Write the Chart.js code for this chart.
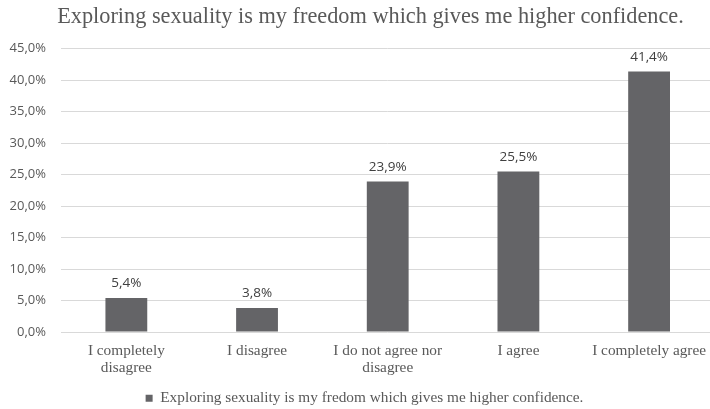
<!DOCTYPE html>
<html><head><meta charset="utf-8">
<script src="https://cdn.jsdelivr.net/npm/chart.js@4"></script>
<style>html,body{margin:0;padding:0;background:#fff;overflow:hidden}#w{width:717px;height:409px}</style>
</head><body><div id="w"><canvas id="c"></canvas></div>
<script>
const categories = [["I completely","disagree"],"I disagree",["I do not agree nor","disagree"],"I agree","I completely agree"];
const values = [5.4, 3.8, 23.9, 25.5, 41.4];
const valueLabels = ["5,4%","3,8%","23,9%","25,5%","41,4%"];
const yTicks = [0,5,10,15,20,25,30,35,40,45];
const seriesName = "Exploring sexuality is my fredom which gives me higher confidence.";
const titleText = "Exploring sexuality is my freedom which gives me higher confidence.";

const labelPlugin = {
  id: 'vlabels',
  afterLayout(chart){
    const t = chart.titleBlock; if (t){ t.left += 8; t.right += 8; }
    const l = chart.legend; if (l){ l.top += 7; l.bottom += 7; l.left += 2; l.right += 2; }
  },
  afterDatasetsDraw(chart){
    const ctx = chart.ctx;
    const meta = chart.getDatasetMeta(0);
    ctx.save();
    ctx.font = '13.5px "Open Sans"';
    ctx.fillStyle = '#404040';
    ctx.textAlign = 'center';
    ctx.textBaseline = 'bottom';
    meta.data.forEach((bar,i)=>{ ctx.fillText(valueLabels[i], bar.x, bar.y - 8); });
    ctx.restore();
  }
};

new Chart(document.getElementById('c'), {
  type: 'bar',
  data: { labels: categories, datasets: [{ label: seriesName, data: values, backgroundColor: '#646467', borderWidth: 0, barPercentage: 0.32, categoryPercentage: 1 }] },
  options: {
    responsive: true, maintainAspectRatio: false, animation: false,
    layout: { padding: { left: 8, right: 0, top: 4, bottom: 0 } },
    plugins: {
      title: { display: true, text: titleText, color: '#595959', font: { family: '"Liberation Serif"', size: 22.3, weight: 'normal', lineHeight: 1.2 }, padding: { top: 0, bottom: 18 } },
      legend: { position: 'bottom', labels: { color: '#595959', font: { family: '"Liberation Serif"', size: 15.3 }, boxWidth: 7, boxHeight: 7, padding: 0 } },
      tooltip: { enabled: false }
    },
    scales: {
      x: { grid: { display: false, drawTicks: false }, border: { display: false },
           afterFit(s){ s.height -= 4; },
           ticks: { color: '#595959', font: { family: '"Liberation Serif"', size: 15.3, lineHeight: 1.1 }, maxRotation: 0, autoSkip: false, padding: 11 } },
      y: { min: 0, max: 45, afterBuildTicks(s){ s.ticks = yTicks.map(v=>({value:v})); },
           afterFit(s){ s.width = 53; },
           grid: { color: '#d9d9d9', drawTicks: false }, border: { display: false },
           ticks: { color: '#595959', font: { family: '"Open Sans"', size: 13 }, padding: 15, callback: v => v.toFixed(1).replace('.', ',') + '%' } }
    }
  },
  plugins: [labelPlugin]
});
</script></body></html>
